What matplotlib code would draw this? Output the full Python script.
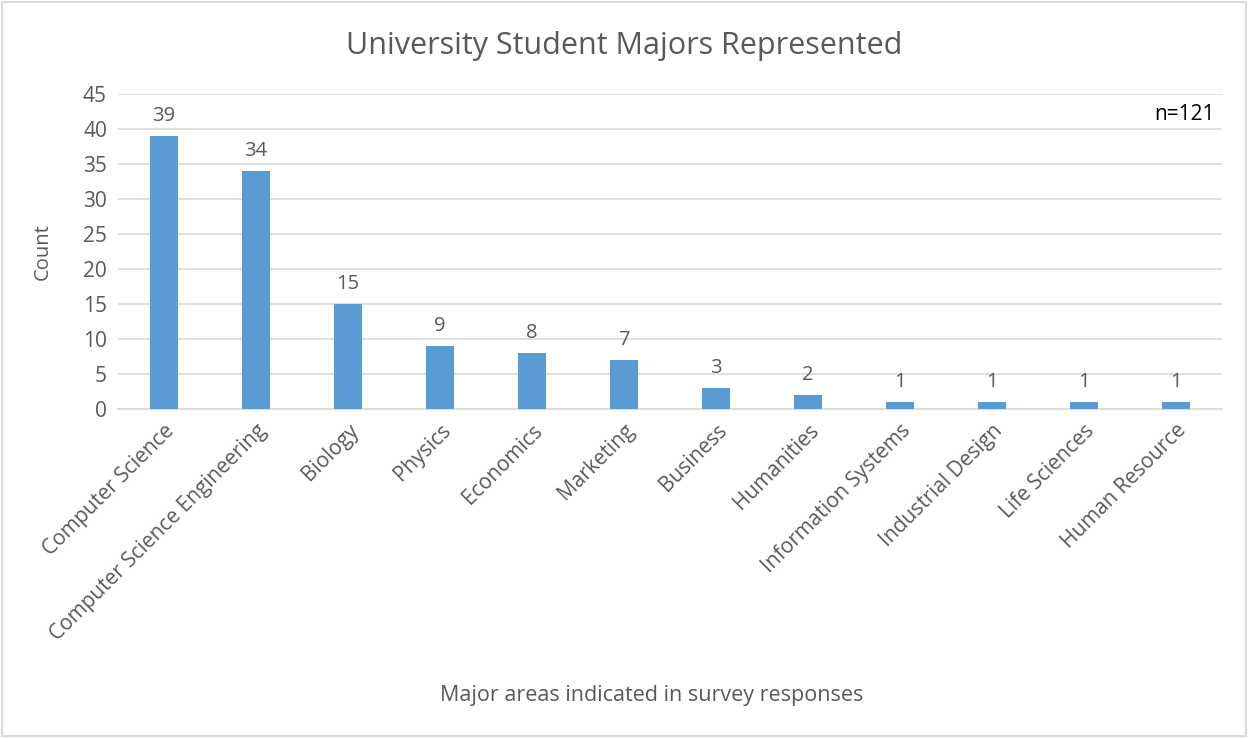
import matplotlib.pyplot as plt
from matplotlib.patches import Rectangle

majors = ["Computer Science", "Computer Science Engineering", "Biology", "Physics",
          "Economics", "Marketing", "Business", "Humanities", "Information Systems",
          "Industrial Design", "Life Sciences", "Human Resource"]
counts = [39, 34, 15, 9, 8, 7, 3, 2, 1, 1, 1, 1]

BAR = "#5B9BD5"
TXT = "#595959"
plt.rcParams["font.family"] = ["Open Sans", "DejaVu Sans"]

fig = plt.figure(figsize=(12.48, 7.38), dpi=100)
ax = fig.add_axes([0.0946, 0.4458, 0.8846, 0.4268])

x = range(len(majors))
ax.bar(x, counts, width=0.31, color=BAR, zorder=3)
for xi, c in zip(x, counts):
    ax.annotate(str(c), (xi, c), xytext=(0, 7), textcoords="offset points",
                ha="center", va="bottom", fontsize=14.5, color=TXT)

ax.set_xlim(-0.5, len(majors) - 0.5)
ax.set_ylim(0, 45)
ax.set_yticks(range(0, 46, 5))
ax.grid(axis="y", color="#d9d9d9", linewidth=1.2, zorder=0)
for s in ["top", "right", "left"]:
    ax.spines[s].set_visible(False)
ax.spines["bottom"].set_color("#d9d9d9")
ax.spines["bottom"].set_linewidth(1.2)
ax.tick_params(length=0, labelsize=15, colors=TXT, pad=8)
ax.set_xticks(list(x))
ax.set_xticklabels(majors, rotation=45, ha="right", rotation_mode="anchor")
ax.set_ylabel("Count", fontsize=14.5, color=TXT, labelpad=22)

ax.text(0.9935, 0.935, "n=121", transform=ax.transAxes, ha="right", va="center",
        fontsize=15, color="black")

fig.text(0.5, 0.938, "University Student Majors Represented", ha="center",
         va="center", fontsize=22, color=TXT)
fig.text(0.522, 0.058, "Major areas indicated in survey responses", ha="center",
         va="center", fontsize=15.5, color=TXT)

fig.patches.append(Rectangle((0.002, 0.003), 0.996, 0.994, transform=fig.transFigure,
                             fill=False, edgecolor="#d9d9d9", linewidth=1.5))

fig.savefig("out.png", dpi=100)
